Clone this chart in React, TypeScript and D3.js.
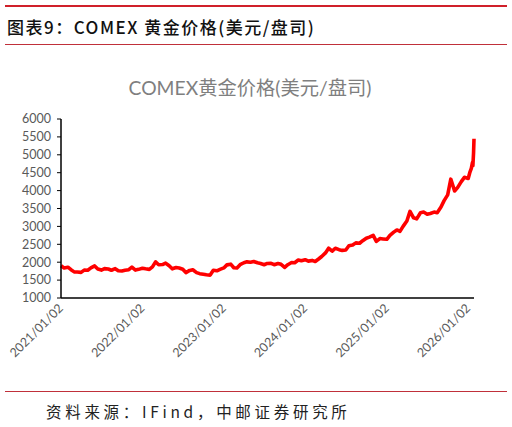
import React from 'react';
import * as d3 from 'd3';

// COMEX gold, semi-monthly readings (2nd and 16th of each month), USD/oz
const y2021 = [1900, 1840, 1860, 1790, 1730, 1725, 1715, 1780, 1775, 1840, 1895, 1810,
  1780, 1820, 1810, 1775, 1820, 1760, 1755, 1775, 1790, 1865, 1780, 1800];
const y2022 = [1830, 1815, 1800, 1870, 2010, 1930, 1935, 1975, 1900, 1815, 1850, 1840,
  1805, 1710, 1770, 1790, 1710, 1680, 1665, 1650, 1640, 1775, 1760, 1800];
const y2023 = [1840, 1925, 1945, 1845, 1840, 1930, 1985, 2010, 2000, 2020, 1985, 1965,
  1930, 1965, 1970, 1930, 1965, 1940, 1855, 1930, 1990, 1985, 2060, 2040];
const y2024 = [2070, 2030, 2050, 2020, 2090, 2160, 2260, 2390, 2310, 2390, 2350, 2330,
  2340, 2460, 2480, 2540, 2530, 2600, 2670, 2700, 2750, 2580, 2660, 2650];
const y2025 = [2640, 2750, 2840, 2900, 2860, 3000, 3150, 3420, 3240, 3210, 3380, 3400,
  3340, 3360, 3400, 3380, 3540, 3720, 3880, 4320, 3990, 4090, 4250, 4370];
// January 2026 tail
const tailDates = ['2026-01-02', '2026-01-09', '2026-01-16', '2026-01-21', '2026-01-23', '2026-01-26', '2026-01-28'];
const tailValues = [4340, 4500, 4620, 4780, 4700, 5050, 5450];

const yTicks = [1000, 1500, 2000, 2500, 3000, 3500, 4000, 4500, 5000, 5500, 6000];
const xLabels = ['2021/01/02', '2022/01/02', '2023/01/02', '2024/01/02', '2025/01/02', '2026/01/02'];

const parse = d3.timeParse('%Y/%m/%d');
const months = d3.timeMonths(new Date(2021, 0, 1), new Date(2026, 0, 1));
const semiDates = months.flatMap(m => [
  new Date(m.getFullYear(), m.getMonth(), 2),
  new Date(m.getFullYear(), m.getMonth(), 16),
]);
const semiValues = [...y2021, ...y2022, ...y2023, ...y2024, ...y2025];
const series = [
  ...semiDates.map((d, i) => ({ date: d, value: semiValues[i] })),
  ...tailDates.map((s, i) => ({ date: d3.timeParse('%Y-%m-%d')(s)!, value: tailValues[i] })),
];

const W = 512, H = 427;
const left = 61, right = 474, top = 119, bottom = 298;

const App = () => {
  const x = d3.scaleTime()
    .domain([new Date(2021, 0, 2), new Date(2026, 0, 28)])
    .range([left, right]);
  const y = d3.scaleLinear().domain([1000, 6000]).range([bottom, top]);
  const line = d3.line<{ date: Date; value: number }>()
    .x(d => x(d.date))
    .y(d => y(d.value));

  const cjk = '"Noto Sans CJK SC", sans-serif';
  const latin = 'Lato, "Noto Sans CJK SC", sans-serif';

  return (
    <svg width={W} height={H} style={{ position: 'absolute', left: 0, top: 0 }}>
      <rect width={W} height={H} fill="#fff" />
      <line x1={5} x2={507} y1={6} y2={6} stroke="#d0202a" strokeWidth={2} />
      <text x={7} y={34} fontFamily={cjk} fontSize={17} fontWeight={500} letterSpacing={1.5} fill="#111">
        图表9：COMEX 黄金价格(美元/盘司)
      </text>
      <line x1={5} x2={507} y1={44.5} y2={44.5} stroke="#c0303a" strokeWidth={1} />

      <text x={250} y={95} textAnchor="middle" fontFamily={latin} fontSize={19.3} fill="#7f7f7f">
        COMEX黄金价格(美元/盘司)
      </text>

      {yTicks.map(t => (
        <g key={t}>
          <line x1={left - 4} x2={left} y1={y(t)} y2={y(t)} stroke="#000" strokeWidth={1} />
          <text x={51} y={y(t)} dy="0.35em" textAnchor="end" fontFamily={latin} fontSize={12.5} fill="#595959">
            {t}
          </text>
        </g>
      ))}

      {xLabels.map(l => {
        const px = x(parse(l)!);
        return (
          <text key={l} transform={`translate(${px + 3},${bottom + 11}) rotate(-45)`}
            textAnchor="end" fontFamily={latin} fontSize={12.5} fill="#595959">
            {l}
          </text>
        );
      })}

      <path d={line(series)!} fill="none" stroke="#ff0000" strokeWidth={3.6} strokeLinejoin="round" />

      <line x1={left} x2={left} y1={top} y2={bottom} stroke="#000" strokeWidth={1.5} />
      <line x1={left} x2={right} y1={bottom} y2={bottom} stroke="#000" strokeWidth={1.5} />

      <line x1={5} x2={507} y1={391.5} y2={391.5} stroke="#c0303a" strokeWidth={1} />
      <text x={46} y={418} fontFamily={cjk} fontSize={15.5} letterSpacing={3.7} fill="#222">
        资料来源：IFind，中邮证券研究所
      </text>
    </svg>
  );
};

export default App;
